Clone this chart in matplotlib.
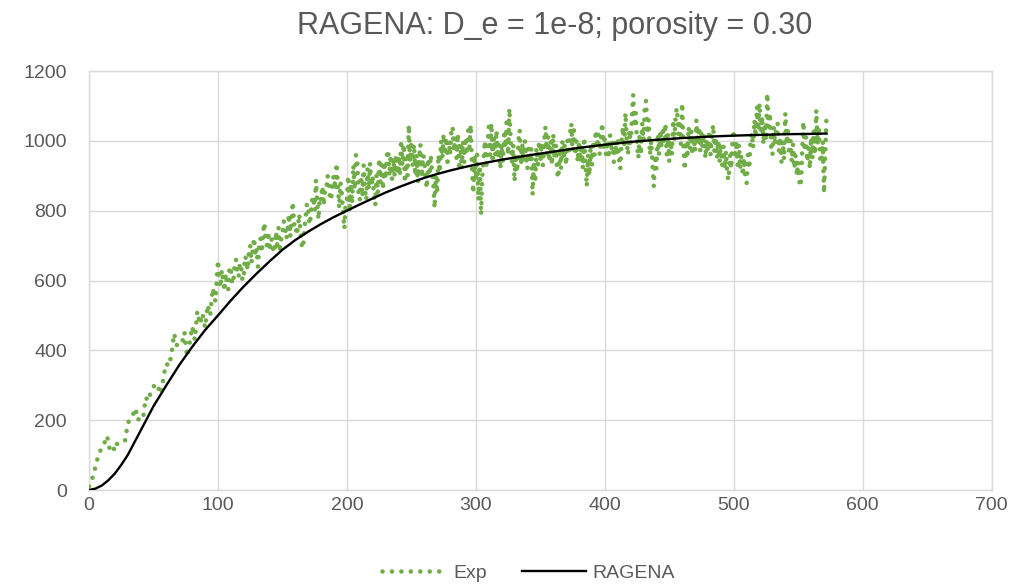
import matplotlib

matplotlib.use("Agg")
import matplotlib.pyplot as plt
import numpy as np

# ---------------------------------------------------------------------------
# Data
# ---------------------------------------------------------------------------
# Measured concentration. Early part logged every 2 time units (t = 0..98),
# later part logged every time unit (t = 100..572).
EXP_EARLY_START, EXP_EARLY_STEP = 0, 2
EXP_EARLY = [
    10, 25, 52, 82, 108, 120, 135, 155, 118, 128,
    112, 135, 138, 140, 142, 190, 205, 215, 234, 200,
    212, 208, 265, 255, 282, 296, 305, 290, 275, 330,
    362, 355, 390, 448, 415, 420, 418, 452, 382, 420,
    468, 430, 512, 475, 505, 465, 530, 500, 578, 540,
]
EXP_LATE_START, EXP_LATE_STEP = 100, 1
EXP_LATE = [
    # t = 100 .. 199
    658, 600, 580, 630, 600, 570, 620, 590, 575, 640,
    630, 590, 600, 650, 660, 620, 610, 650, 640, 600,
    612, 670, 660, 630, 680, 700, 650, 690, 722, 670,
    690, 640, 700, 720, 680, 740, 765, 710, 700, 740,
    685, 720, 715, 680, 690, 740, 700, 750, 680, 720,
    730, 770, 760, 720, 740, 790, 725, 770, 825, 760,
    765, 730, 750, 790, 740, 700, 692, 750, 780, 820,
    800, 760, 785, 830, 840, 800, 888, 820, 775, 840,
    830, 870, 815, 860, 860, 900, 880, 830, 840, 890,
    900, 860, 936, 870, 808, 880, 850, 800, 748, 820,
    # t = 200 .. 299
    830, 900, 795, 880, 820, 930, 860, 960, 942, 850,
    830, 900, 840, 930, 860, 830, 920, 860, 936, 870,
    900, 840, 815, 900, 850, 950, 880, 930, 860, 940,
    890, 960, 974, 900, 960, 890, 950, 900, 960, 905,
    960, 900, 1003, 930, 990, 880, 950, 900, 1046, 940,
    1000, 930, 990, 900, 960, 880, 950, 990, 895, 960,
    950, 890, 864, 950, 900, 960, 910, 880, 807, 900,
    850, 960, 910, 1000, 950, 1020, 960, 1010, 940, 1000,
    960, 1030, 1041, 970, 1010, 950, 1020, 930, 990, 920,
    1000, 940, 1010, 960, 1030, 980, 1046, 920, 850, 960,
    # t = 300 .. 399
    888, 960, 830, 930, 788, 900, 950, 1000, 920, 980,
    1040, 960, 1050, 950, 1010, 960, 1030, 950, 990, 920,
    990, 940, 1030, 980, 1065, 960, 1093, 1000, 940, 990,
    884, 960, 910, 1000, 1031, 930, 990, 940, 1000, 950,
    920, 990, 940, 980, 845, 940, 880, 980, 920, 1000,
    940, 994, 930, 1000, 1041, 960, 1010, 940, 1000, 930,
    1020, 950, 990, 910, 893, 980, 920, 1000, 950, 990,
    930, 1000, 960, 1020, 1050, 970, 1030, 960, 1000, 940,
    1000, 940, 990, 920, 1010, 940, 869, 960, 900, 990,
    930, 1000, 960, 1030, 980, 1020, 960, 1010, 1051, 980,
    # t = 400 .. 499
    1010, 960, 1000, 950, 1017, 970, 1000, 940, 1000, 960,
    1010, 950, 920, 1000, 1040, 980, 1080, 1000, 960, 1030,
    990, 1060, 1132, 1040, 1080, 990, 950, 1020, 960, 1050,
    1000, 1100, 1115, 1020, 1060, 960, 1000, 930, 869, 960,
    920, 1020, 960, 1030, 980, 1040, 990, 1050, 960, 1020,
    940, 1000, 960, 1060, 1000, 1080, 1094, 1020, 1060, 990,
    1108, 980, 917, 1000, 950, 1040, 980, 1030, 960, 1010,
    970, 1060, 990, 1040, 970, 1030, 980, 1020, 950, 1000,
    970, 1030, 960, 1010, 1046, 970, 1010, 950, 1000, 940,
    990, 930, 984, 920, 970, 900, 888, 960, 920, 1000,
    # t = 500 .. 572
    1031, 950, 1000, 930, 990, 920, 960, 900, 950, 890,
    879, 960, 920, 1000, 1022, 980, 1060, 1010, 1098, 1030,
    1107, 1020, 1070, 990, 1050, 1000, 1136, 1040, 1080, 980,
    960, 1040, 990, 1030, 1050, 970, 1010, 940, 1000, 946,
    1079, 990, 1030, 960, 1000, 940, 990, 920, 960, 900,
    940, 880, 869, 960, 1055, 970, 1010, 940, 980, 920,
    1010, 950, 1030, 960, 1088, 990, 1040, 950, 937, 1000,
    850, 960, 1079,
]

# RAGENA model output.
RAGENA_T = [
    0, 5, 10, 15, 20, 25, 30, 35, 40, 45,
    50, 60, 70, 80, 90, 100, 110, 120, 130, 140,
    150, 160, 170, 180, 190, 200, 210, 220, 230, 240,
    250, 260, 270, 280, 290, 300, 320, 340, 360, 380,
    400, 420, 440, 460, 480, 500, 520, 540, 560, 572,
]
RAGENA_VALUES = [
    0, 4, 13, 28, 47, 72, 100, 135, 170, 205,
    240, 300, 358, 410, 458, 500, 543, 583, 620, 655,
    688, 716, 740, 762, 782, 800, 818, 835, 852, 867,
    881, 894, 905, 915, 924, 932, 946, 958, 969, 980,
    989, 997, 1003, 1008, 1012, 1015, 1017, 1019, 1020, 1021,
]

TITLE = "RAGENA: D_e = 1e-8; porosity = 0.30"
X_TICKS = [0, 100, 200, 300, 400, 500, 600, 700]
Y_TICKS = [0, 200, 400, 600, 800, 1000, 1200]

GREEN = "#70AD47"
TEXT_GREY = "#595959"
GRID_GREY = "#D9D9D9"

plt.rcParams["font.family"] = ["Liberation Sans", "DejaVu Sans"]

fig = plt.figure(figsize=(10.15, 5.86), dpi=100)
ax = fig.add_axes([0.0877, 0.1638, 0.8893, 0.7150])

exp_t = np.concatenate([
    EXP_EARLY_START + EXP_EARLY_STEP * np.arange(len(EXP_EARLY)),
    EXP_LATE_START + EXP_LATE_STEP * np.arange(len(EXP_LATE)),
])
exp_y = np.array(EXP_EARLY + EXP_LATE, dtype=float)

# Exp series: round-dot line style (no markers), like an office chart.
(exp_line,) = ax.plot(
    exp_t, exp_y,
    color=GREEN, linewidth=3.3,
    linestyle=(0, (0.01, 2.05)),
    dash_capstyle="round",
    solid_joinstyle="round",
    zorder=3, label="Exp",
)
(model_line,) = ax.plot(
    RAGENA_T, RAGENA_VALUES,
    color="black", linewidth=1.7, zorder=4, label="RAGENA",
)

ax.set_xlim(0, 700)
ax.set_ylim(0, 1200)
ax.set_xticks(X_TICKS)
ax.set_yticks(Y_TICKS)
ax.tick_params(axis="both", length=0, labelsize=14, labelcolor=TEXT_GREY)
ax.tick_params(axis="y", pad=16)
ax.tick_params(axis="x", pad=5)
ax.grid(True, color=GRID_GREY, linewidth=1.0)
ax.set_axisbelow(True)
for side in ("top", "right", "left", "bottom"):
    ax.spines[side].set_color(GRID_GREY)
    ax.spines[side].set_linewidth(1.0)

fig.text(0.546, 0.955, TITLE, ha="center", va="center",
         fontsize=22, color=TEXT_GREY)

leg = fig.legend(
    [exp_line, model_line], ["Exp", "RAGENA"],
    loc="center", bbox_to_anchor=(0.521, 0.022),
    ncol=2, frameon=False, fontsize=14,
    handlelength=3.3, handletextpad=0.35, columnspacing=1.8,
)
for txt in leg.get_texts():
    txt.set_color(TEXT_GREY)

fig.savefig("out.png", dpi=100)
